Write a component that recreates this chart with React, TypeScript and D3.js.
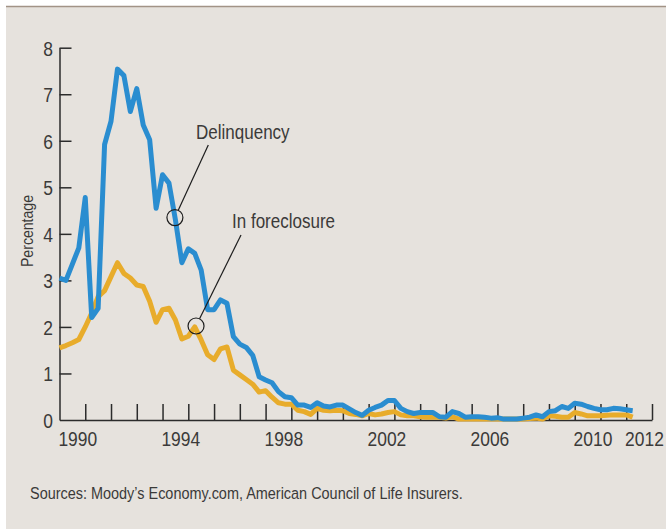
import * as d3 from 'd3';
import React, { useRef, useEffect } from 'react';

const width = 666;
const height = 529;
const margin = { top: 47.7, right: 14, bottom: 109, left: 59.5 };

const years = [1990, 1994, 1998, 2002, 2006, 2010, 2012];
const yTicks = [0, 1, 2, 3, 4, 5, 6, 7, 8];

// quarterly values, starting 1989 Q1
const delinquency = [
    3.05, 3.0, 3.35, 3.7,
    4.78, 2.2, 2.4, 5.92,
    6.42, 7.54, 7.4, 6.63,
    7.12, 6.34, 6.02, 4.55,
    5.27, 5.09, 4.3, 3.38,
    3.68, 3.58, 3.22, 2.37,
    2.37, 2.58, 2.51, 1.79,
    1.63, 1.56, 1.39, 0.93,
    0.86, 0.8, 0.61, 0.5,
    0.48, 0.32, 0.32, 0.27,
    0.37, 0.3, 0.28, 0.32,
    0.32, 0.24, 0.16, 0.1,
    0.21, 0.27, 0.32, 0.42,
    0.42, 0.25, 0.18, 0.14,
    0.16, 0.16, 0.16, 0.07,
    0.06, 0.18, 0.14, 0.06,
    0.07, 0.07, 0.06, 0.04,
    0.05, 0.02, 0.02, 0.02,
    0.04, 0.06, 0.11, 0.07,
    0.18, 0.2, 0.29, 0.25,
    0.36, 0.34, 0.29, 0.25,
    0.22, 0.22, 0.25, 0.24,
    0.22, 0.2
];

const foreclosure = [
    1.55, 1.6, 1.66, 1.73,
    2.0, 2.3, 2.65, 2.78,
    3.08, 3.38, 3.15, 3.05,
    2.9, 2.87, 2.55, 2.1,
    2.37, 2.4, 2.15, 1.74,
    1.8, 2.0, 1.72, 1.4,
    1.3, 1.53, 1.57, 1.07,
    0.97, 0.87, 0.77, 0.6,
    0.63, 0.49, 0.37, 0.34,
    0.34, 0.21, 0.18, 0.12,
    0.25, 0.21, 0.2, 0.21,
    0.2, 0.14, 0.12, 0.09,
    0.14, 0.11, 0.13, 0.16,
    0.18, 0.11, 0.09, 0.09,
    0.07, 0.06, 0.06, 0.06,
    0.04, 0.07, 0.02, 0.02,
    0.02, 0.02, 0.02, 0.02,
    0.02, 0.02, 0.02, 0.02,
    0.02, 0.03, 0.04, 0.02,
    0.09, 0.08, 0.06, 0.06,
    0.16, 0.13, 0.09, 0.09,
    0.09, 0.1, 0.11, 0.11,
    0.11, 0.06
];

const font = "'Liberation Sans', Arial, sans-serif";
const textColor = "#3b3a39";
const squeeze = 0.83; // no condensed face installed, so narrow the glyphs

function App() {
    const ref = useRef(null);

    useEffect(() => {
        const svg = d3.select(ref.current);
        svg.selectAll('*').remove();

        svg.append("rect")
            .attr("x", 6).attr("y", 6)
            .attr("width", width - 6).attr("height", height - 6)
            .attr("fill", "#e6e2dd");
        svg.append("line")
            .attr("x1", 6).attr("x2", width)
            .attr("y1", 6.5).attr("y2", 6.5)
            .attr("stroke", "#a29386").attr("stroke-width", 1.6);

        const x = d3.scaleLinear().domain([1989, 2012]).range([margin.left, width - margin.right]);
        const y = d3.scaleLinear().domain([0, 8]).range([height - margin.bottom, margin.top]);

        const g = svg.append("g");

        const label = (px, py, txt, size, anchor, sx = squeeze, rot = 0) =>
            g.append("text")
                .attr("transform", "translate(" + px + "," + py + ") rotate(" + rot + ") scale(" + sx + ",1)")
                .attr("text-anchor", anchor)
                .attr("font-family", font)
                .attr("font-size", size)
                .attr("fill", textColor)
                .text(txt);

        // x axis: yearly ticks pointing up
        const xAxis = d3.axisTop(x)
            .tickValues(d3.range(1990, 2013))
            .tickSize(16)
            .tickSizeOuter(0)
            .tickFormat(() => "");
        g.append("g")
            .attr("transform", "translate(0," + y(0) + ")")
            .call(xAxis)
            .call(a => a.selectAll("line, path").attr("stroke", "#2b2b2b").attr("stroke-width", 1.5));

        // y axis: ticks pointing right
        const yAxis = d3.axisRight(y)
            .tickValues(yTicks.slice(1))
            .tickSize(12)
            .tickSizeOuter(0)
            .tickFormat(() => "");
        g.append("g")
            .attr("transform", "translate(" + x(1989) + ",0)")
            .call(yAxis)
            .call(a => a.selectAll("line, path").attr("stroke", "#2b2b2b").attr("stroke-width", 1.5));

        yTicks.forEach(d => label(x(1989) - 6.5, y(d) + 8, d, 21, "end"));
        years.forEach(d => label(x(d) - 7.5, 446, d, 21, "middle"));

        label(33, 231, "Percentage", 17, "middle", squeeze, -90);

        const line = d3.line()
            .x((d, i) => x(1989 + i / 4))
            .y(d => y(d));

        g.append("path")
            .datum(foreclosure)
            .attr("d", line)
            .attr("fill", "none")
            .attr("stroke", "#e8ac2b")
            .attr("stroke-width", 5)
            .attr("stroke-linejoin", "round");

        g.append("path")
            .datum(delinquency)
            .attr("d", line)
            .attr("fill", "none")
            .attr("stroke", "#2a8dd0")
            .attr("stroke-width", 5)
            .attr("stroke-linejoin", "round");

        // callouts
        const callouts = [
            { label: "Delinquency", t: 1993.48, v: 4.35, lx: 208.3, ly: 145, tx: 196, ty: 139 },
            { label: "In foreclosure", t: 1994.3, v: 2.02, lx: 241, ly: 235, tx: 232, ty: 228 }
        ];
        callouts.forEach(c => {
            const cx = x(c.t), cy = y(c.v);
            const ang = Math.atan2(c.ly - cy, c.lx - cx);
            g.append("circle")
                .attr("cx", cx).attr("cy", cy).attr("r", 8)
                .attr("fill", "none").attr("stroke", "#1d1d1d").attr("stroke-width", 1.2);
            g.append("line")
                .attr("x1", cx + 8 * Math.cos(ang)).attr("y1", cy + 8 * Math.sin(ang))
                .attr("x2", c.lx).attr("y2", c.ly)
                .attr("stroke", "#1d1d1d").attr("stroke-width", 1.2);
            label(c.tx, c.ty, c.label, 20.5, "start");
        });

        label(30, 499, "Sources: Moody\u2019s Economy.com, American Council of Life Insurers.", 17, "start", 0.85);
    }, []);

    return (
        <div style={{ position: "absolute", left: 0, top: 0 }}>
            <svg ref={ref} width={width} height={height} style={{ display: "block" }}>
            </svg>
        </div>
    );
}

export default App;
